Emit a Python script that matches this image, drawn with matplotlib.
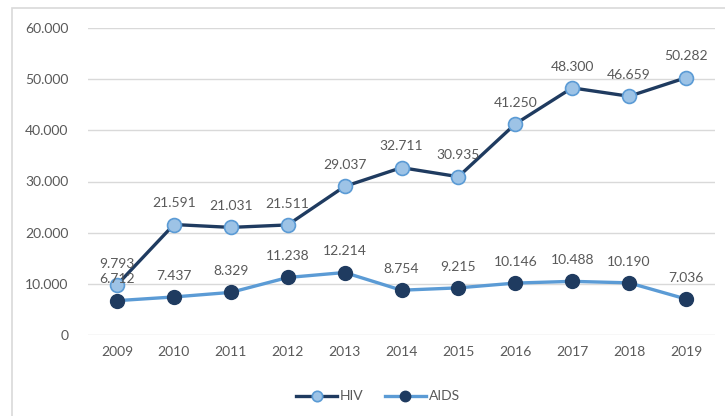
import numpy as np
import matplotlib.pyplot as plt
from matplotlib.patches import Rectangle

years = [2009, 2010, 2011, 2012, 2013, 2014, 2015, 2016, 2017, 2018, 2019]
hiv = [9793, 21591, 21031, 21511, 29037, 32711, 30935, 41250, 48300, 46659, 50282]
aids = [6712, 7437, 8329, 11238, 12214, 8754, 9215, 10146, 10488, 10190, 7036]

txt = '#595959'
navy = '#1f3b60'
light = '#5b9bd5'
plt.rcParams['font.family'] = ['Lato', 'DejaVu Sans']

def fmt(v):
    # dot as thousands separator
    return '{:,}'.format(v).replace(',', '.')

fig = plt.figure(figsize=(7.25, 4.16), dpi=100)
ax = fig.add_axes([88/725, 81/416, 627/725, 307/416])

# outer chart frame
fig.add_artist(Rectangle((12/725, -0.1), 1.2, (416-8)/416 + 0.1, transform=fig.transFigure,
                         fill=False, edgecolor='#d9d9d9', linewidth=1.2, clip_on=False))

x = np.arange(len(years))
ax.plot(x, hiv, color=navy, lw=2.4, marker='o', ms=10, mfc='#9dc3e6', mec=light, mew=1.2,
        label='HIV', zorder=3)
ax.plot(x, aids, color=light, lw=2.4, marker='o', ms=10, mfc=navy, mec=navy,
        label='AIDS', zorder=3)

for xi, v in zip(x, hiv):
    ax.annotate(fmt(v), (xi, v), xytext=(0, 11), textcoords='offset points',
                ha='center', va='bottom', fontsize=10, color=txt)
for xi, v in zip(x, aids):
    ax.annotate(fmt(v), (xi, v), xytext=(0, 11), textcoords='offset points',
                ha='center', va='bottom', fontsize=10, color=txt)

ax.set_xlim(-0.51, len(years) - 0.49)
ax.set_ylim(0, 60000)
ax.set_yticks(np.arange(0, 60001, 10000))
ax.set_yticklabels([fmt(v) for v in range(0, 60001, 10000)])
ax.set_xticks(x)
ax.set_xticklabels([str(y) for y in years])
ax.tick_params(length=0, labelsize=10, colors=txt, pad=8)
ax.tick_params(axis='y', pad=14)
ax.grid(axis='y', color='#d9d9d9', lw=1)
ax.set_axisbelow(True)
for s in ax.spines.values():
    s.set_visible(False)

ax.legend(loc='center', bbox_to_anchor=(0.4625, -0.2), ncol=2, frameon=False,
          fontsize=10, labelcolor=txt, handlelength=3, columnspacing=1.5,
          handletextpad=0.2, markerscale=0.75)

fig.savefig('out.png', dpi=100)
